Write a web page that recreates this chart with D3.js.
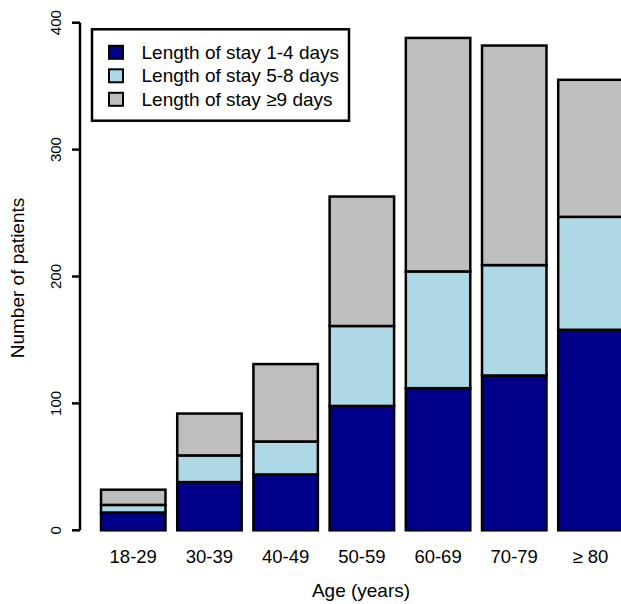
<!DOCTYPE html>
<html>
<head>
<meta charset="utf-8">
<script src="https://cdn.jsdelivr.net/npm/d3@7"></script>
<style>
  body { margin: 0; background: #fff; }
  svg { display: block; font-family: "Liberation Sans", Arial, sans-serif; }
</style>
</head>
<body>
<div id="chart"></div>
<script>
// age groups and patient counts per length of stay
var ageGroups = ["18-29", "30-39", "40-49", "50-59", "60-69", "70-79", "\u2265 80"];
var stay1to4 = [14, 38, 44, 98, 112, 122, 158];
var stay5to8 = [6, 21, 26, 63, 92, 87, 89];
var stay9plus = [12, 33, 61, 102, 184, 173, 108];
var yTicks = [0, 100, 200, 300, 400];

var seriesNames = ["Length of stay 1-4 days", "Length of stay 5-8 days", "Length of stay \u22659 days"];
var seriesColors = ["#00008B", "#ADD8E6", "#BEBEBE"];

var width = 621, height = 604;

var svg = d3.select("#chart").append("svg")
  .attr("width", width)
  .attr("height", height);

// build rows for d3.stack
var rows = ageGroups.map(function(g, i) {
  return { group: g, s0: stay1to4[i], s1: stay5to8[i], s2: stay9plus[i] };
});
var stacked = d3.stack().keys(["s0", "s1", "s2"])(rows);

var xScale = d3.scaleBand()
  .domain(ageGroups)
  .range([95.15, 628.55])
  .paddingInner(0.154)
  .paddingOuter(0.077);

var yScale = d3.scaleLinear()
  .domain([0, 400])
  .range([530.3, 22.7]);

// bars
svg.selectAll("g.layer")
  .data(stacked)
  .enter()
  .append("g")
  .attr("class", "layer")
  .attr("fill", function(d, i) { return seriesColors[i]; })
  .selectAll("rect")
  .data(function(d) { return d; })
  .enter()
  .append("rect")
  .attr("x", function(d) { return xScale(d.data.group); })
  .attr("y", function(d) { return yScale(d[1]); })
  .attr("width", xScale.bandwidth())
  .attr("height", function(d) { return yScale(d[0]) - yScale(d[1]); })
  .attr("stroke", "#000")
  .attr("stroke-width", 2.5);

// y axis (R style: labels parallel to axis)
var yAxis = svg.append("g").attr("transform", "translate(80,0)");
yAxis.append("line")
  .attr("x1", 0).attr("x2", 0)
  .attr("y1", yScale(0)).attr("y2", yScale(400))
  .attr("stroke", "#000").attr("stroke-width", 2.5);
yAxis.selectAll("line.tick")
  .data(yTicks)
  .enter()
  .append("line")
  .attr("class", "tick")
  .attr("x1", -8).attr("x2", 0)
  .attr("y1", function(d) { return yScale(d); })
  .attr("y2", function(d) { return yScale(d); })
  .attr("stroke", "#000").attr("stroke-width", 2.5);
yAxis.selectAll("text")
  .data(yTicks)
  .enter()
  .append("text")
  .attr("transform", function(d) { return "translate(-19," + yScale(d) + ") rotate(-90)"; })
  .attr("text-anchor", "middle")
  .attr("font-size", 15)
  .text(function(d) { return d; });

// x tick labels (no axis line)
svg.selectAll("text.xlab")
  .data(ageGroups)
  .enter()
  .append("text")
  .attr("class", "xlab")
  .attr("x", function(d) { return xScale(d) + xScale.bandwidth() / 2; })
  .attr("y", 563)
  .attr("text-anchor", "middle")
  .attr("font-size", 18.5)
  .text(function(d) { return d; });

// axis titles
svg.append("text")
  .attr("x", 361)
  .attr("y", 597)
  .attr("text-anchor", "middle")
  .attr("font-size", 19)
  .text("Age (years)");

svg.append("text")
  .attr("transform", "translate(24,278) rotate(-90)")
  .attr("text-anchor", "middle")
  .attr("font-size", 19)
  .text("Number of patients");

// legend
var legend = svg.append("g");
legend.append("rect")
  .attr("x", 92).attr("y", 29.3)
  .attr("width", 257).attr("height", 91.4)
  .attr("fill", "#fff")
  .attr("stroke", "#000").attr("stroke-width", 2.5);

var legendRows = legend.selectAll("g.item")
  .data(seriesNames)
  .enter()
  .append("g")
  .attr("class", "item")
  .attr("transform", function(d, i) { return "translate(0," + (52.3 + i * 23.5) + ")"; });

legendRows.append("rect")
  .attr("x", 109).attr("y", -6.5)
  .attr("width", 14).attr("height", 13)
  .attr("fill", function(d, i) { return seriesColors[i]; })
  .attr("stroke", "#000").attr("stroke-width", 2);

legendRows.append("text")
  .attr("x", 141.5)
  .attr("y", 6.5)
  .attr("font-size", 19)
  .text(function(d) { return d; });
</script>
</body>
</html>
